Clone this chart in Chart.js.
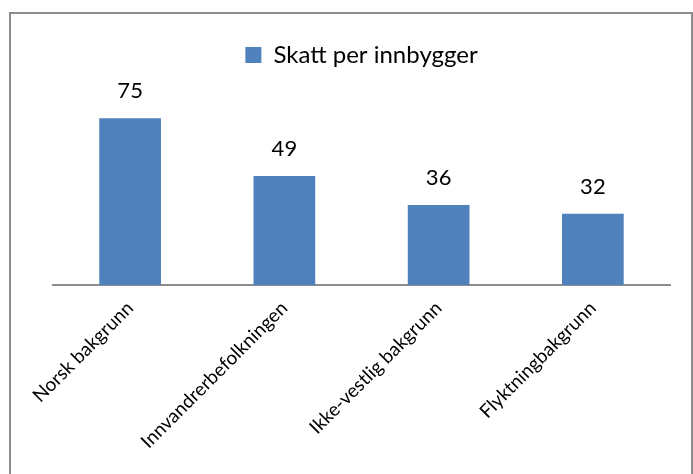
<!DOCTYPE html>
<html>
<head>
<meta charset="utf-8">
<script src="https://cdn.jsdelivr.net/npm/chart.js@4.4.1/dist/chart.umd.min.js"></script>
<style>
  html, body { margin: 0; padding: 0; background: #fff; overflow: hidden; }
  #frame { position: absolute; left: 9px; top: 12px; width: 680px; height: 500px;
           border: 2px solid #8c8c8c; border-bottom: none; }
  #wrap { position: absolute; left: 0; top: 0; width: 693px; height: 474px; }
</style>
</head>
<body>
<div id="frame"></div>
<div id="wrap"><canvas id="chart" width="693" height="474"></canvas></div>
<script>
let categories = ["Norsk bakgrunn", "Innvandrerbefolkningen", "Ikke-vestlig bakgrunn", "Flyktningbakgrunn"];
let values = [75, 49, 36, 32];
let seriesName = "Skatt per innbygger";
let barColor = "#4F81BD";
let fontFamily = "Lato, 'Open Sans', sans-serif";

// draws the numbers above each bar
const valueLabels = {
  id: "valueLabels",
  afterDatasetsDraw(chart) {
    const ctx = chart.ctx;
    ctx.save();
    ctx.font = "22px " + fontFamily;
    ctx.fillStyle = "#000";
    ctx.textAlign = "center";
    ctx.textBaseline = "bottom";
    chart.getDatasetMeta(0).data.forEach(function(bar, i) {
      ctx.fillText(values[i], bar.x, bar.y - 16);
    });
    ctx.restore();
  }
};

// extra space under the legend
const legendGap = {
  id: "legendGap",
  beforeInit(chart) {
    const fit = chart.legend.fit;
    chart.legend.fit = function() {
      fit.bind(chart.legend)();
      this.height += 8;
    };
  }
};

Chart.defaults.font.family = fontFamily;
Chart.defaults.color = "#000";

new Chart(document.getElementById("chart"), {
  type: "bar",
  data: {
    labels: categories,
    datasets: [{
      label: seriesName,
      data: values,
      backgroundColor: barColor,
      borderWidth: 0,
      categoryPercentage: 1,
      barPercentage: 0.4
    }]
  },
  options: {
    responsive: false,
    animation: false,
    layout: { padding: { left: 53, right: 23, top: 8, bottom: 17 } },
    plugins: {
      legend: {
        position: "top",
        labels: { boxWidth: 16, boxHeight: 16, font: { size: 24 }, padding: 35 }
      },
      tooltip: { enabled: false }
    },
    scales: {
      x: {
        grid: { display: false },
        border: { display: true, color: "#8c8c8c", width: 2 },
        ticks: { minRotation: 45, maxRotation: 45, font: { size: 19 }, padding: 4 }
      },
      y: {
        display: false,
        min: 0,
        max: 90
      }
    }
  },
  plugins: [valueLabels, legendGap]
});
</script>
</body>
</html>
